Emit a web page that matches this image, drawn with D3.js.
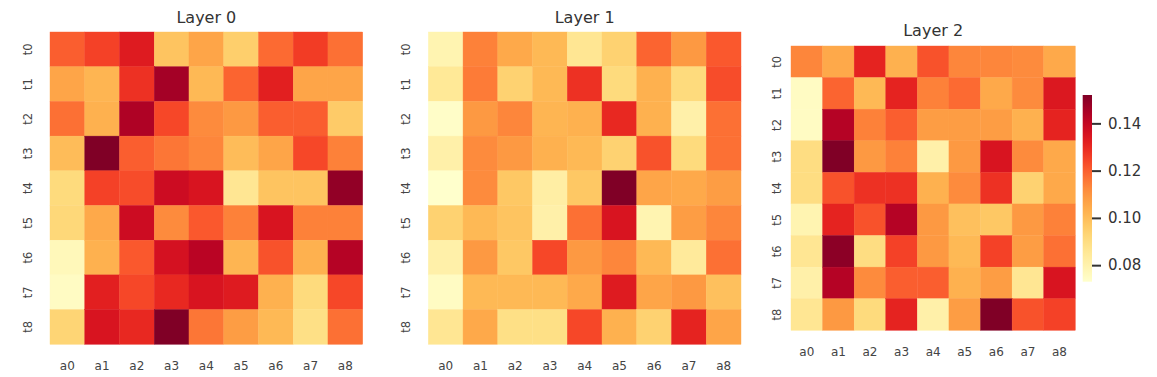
<!DOCTYPE html>
<html>
<head>
<meta charset="utf-8">
<script src="https://cdn.jsdelivr.net/npm/d3@7"></script>
<style>
  body { margin: 0; background: #fff; }
  svg text { font-family: "DejaVu Sans", sans-serif; }
</style>
</head>
<body>
<div id="chart"></div>
<script>
// Data

var cols = ['a0', 'a1', 'a2', 'a3', 'a4', 'a5', 'a6', 'a7', 'a8'];
var rows = ['t0', 't1', 't2', 't3', 't4', 't5', 't6', 't7', 't8'];
var layerNames = ['Layer 0', 'Layer 1', 'Layer 2'];
var colorTicks = [0.08, 0.10, 0.12, 0.14];
var vmin = 0.073, vmax = 0.152;

var layer0 = [
  [0.120, 0.125, 0.133, 0.098, 0.106, 0.095, 0.118, 0.126, 0.117],
  [0.106, 0.102, 0.128, 0.146, 0.101, 0.119, 0.132, 0.106, 0.106],
  [0.117, 0.103, 0.144, 0.124, 0.112, 0.109, 0.120, 0.120, 0.096],
  [0.100, 0.152, 0.120, 0.116, 0.113, 0.100, 0.106, 0.124, 0.114],
  [0.091, 0.125, 0.123, 0.138, 0.135, 0.086, 0.098, 0.098, 0.149],
  [0.092, 0.105, 0.138, 0.112, 0.121, 0.114, 0.135, 0.114, 0.114],
  [0.077, 0.103, 0.121, 0.136, 0.142, 0.102, 0.122, 0.103, 0.143],
  [0.075, 0.132, 0.124, 0.130, 0.135, 0.133, 0.103, 0.091, 0.124],
  [0.093, 0.135, 0.130, 0.152, 0.116, 0.108, 0.101, 0.089, 0.117]
];

var layer1 = [
  [0.079, 0.114, 0.105, 0.101, 0.086, 0.094, 0.119, 0.109, 0.121],
  [0.085, 0.115, 0.094, 0.101, 0.128, 0.091, 0.103, 0.091, 0.123],
  [0.074, 0.109, 0.113, 0.102, 0.103, 0.130, 0.103, 0.081, 0.117],
  [0.081, 0.112, 0.109, 0.103, 0.101, 0.094, 0.122, 0.091, 0.117],
  [0.073, 0.112, 0.097, 0.082, 0.097, 0.152, 0.106, 0.105, 0.108],
  [0.094, 0.101, 0.098, 0.081, 0.117, 0.135, 0.079, 0.108, 0.113],
  [0.081, 0.109, 0.097, 0.124, 0.109, 0.113, 0.101, 0.084, 0.117],
  [0.075, 0.101, 0.101, 0.101, 0.105, 0.133, 0.106, 0.109, 0.099],
  [0.086, 0.105, 0.089, 0.089, 0.124, 0.103, 0.094, 0.131, 0.106]
];

var layer2 = [
  [0.113, 0.105, 0.131, 0.103, 0.122, 0.113, 0.113, 0.112, 0.105],
  [0.075, 0.119, 0.101, 0.131, 0.114, 0.118, 0.105, 0.112, 0.134],
  [0.075, 0.143, 0.114, 0.120, 0.108, 0.108, 0.108, 0.103, 0.131],
  [0.090, 0.152, 0.109, 0.114, 0.081, 0.109, 0.135, 0.112, 0.105],
  [0.090, 0.122, 0.128, 0.128, 0.103, 0.112, 0.128, 0.094, 0.105],
  [0.079, 0.131, 0.122, 0.143, 0.109, 0.099, 0.097, 0.109, 0.114],
  [0.086, 0.150, 0.090, 0.125, 0.109, 0.101, 0.125, 0.108, 0.117],
  [0.081, 0.143, 0.112, 0.120, 0.120, 0.103, 0.108, 0.086, 0.135],
  [0.086, 0.109, 0.091, 0.131, 0.081, 0.108, 0.152, 0.122, 0.125]
];

var layers = [layer0, layer1, layer2];

// Layout

var width = 1157, height = 377;

var panels = [
  { x0: 50,    x1: 362.7,  y0: 32, y1: 344.3, titleY: 22.7, xlabY: 366, ylabX: 27.5 },
  { x0: 428.3, x1: 741,    y0: 32, y1: 344.3, titleY: 22.7, xlabY: 366, ylabX: 406 },
  { x0: 791,   x1: 1075.3, y0: 46, y1: 330.3, titleY: 36,   xlabY: 352, ylabX: 777 }
];

var color = d3.scaleSequential(d3.interpolateYlOrRd).domain([vmin, vmax]);

var svg = d3.select("#chart")
  .append("svg")
  .attr("width", width)
  .attr("height", height);

panels.forEach(function (p, i) {

  var x = d3.scaleBand().domain(cols).range([p.x0, p.x1]);
  var y = d3.scaleBand().domain(rows).range([p.y0, p.y1]);

  var cells = [];
  layers[i].forEach(function (r, ri) {
    r.forEach(function (v, ci) {
      cells.push({ row: rows[ri], col: cols[ci], value: v });
    });
  });

  var g = svg.append("g");

  g.selectAll("rect")
    .data(cells)
    .enter()
    .append("rect")
    .attr("x", function (d) { return x(d.col); })
    .attr("y", function (d) { return y(d.row); })
    .attr("width", x.bandwidth())
    .attr("height", y.bandwidth())
    .attr("fill", function (d) { return color(d.value); })
    .attr("stroke", function (d) { return color(d.value); })
    .attr("stroke-width", 0.4);

  // title
  g.append("text")
    .attr("x", (p.x0 + p.x1) / 2)
    .attr("y", p.titleY)
    .attr("text-anchor", "middle")
    .attr("font-size", "16px")
    .attr("fill", "#333")
    .text(layerNames[i]);

  // x tick labels
  g.selectAll(".xl")
    .data(cols)
    .enter()
    .append("text")
    .attr("x", function (d) { return x(d) + x.bandwidth() / 2; })
    .attr("y", p.xlabY)
    .attr("dy", "0.35em")
    .attr("text-anchor", "middle")
    .attr("font-size", "12px")
    .attr("fill", "#444")
    .text(function (d) { return d; });

  // y tick labels, rotated
  g.selectAll(".yl")
    .data(rows)
    .enter()
    .append("text")
    .attr("transform", function (d) {
      return "translate(" + p.ylabX + "," + (y(d) + y.bandwidth() / 2) + ") rotate(-90)";
    })
    .attr("dy", "0.35em")
    .attr("text-anchor", "middle")
    .attr("font-size", "11.5px")
    .attr("fill", "#444")
    .text(function (d) { return d; });
});

// Colorbar

var cbX = 1082.7, cbW = 9.3, cbTop = 95, cbBottom = 281.7;
var cbScale = d3.scaleLinear().domain([vmin, vmax]).range([cbBottom, cbTop]);

var grad = svg.append("defs")
  .append("linearGradient")
  .attr("id", "cbgrad")
  .attr("x1", "0").attr("y1", "1")
  .attr("x2", "0").attr("y2", "0");

d3.range(0, 1.0001, 0.05).forEach(function (t) {
  grad.append("stop")
    .attr("offset", t)
    .attr("stop-color", d3.interpolateYlOrRd(t));
});

svg.append("rect")
  .attr("x", cbX)
  .attr("y", cbTop)
  .attr("width", cbW)
  .attr("height", cbBottom - cbTop)
  .attr("fill", "url(#cbgrad)");

var cbAxis = svg.append("g")
  .attr("transform", "translate(" + (cbX + cbW) + ",0)")
  .call(d3.axisRight(cbScale)
    .tickValues(colorTicks)
    .tickSize(9)
    .tickPadding(7)
    .tickFormat(d3.format(".2f")));

cbAxis.select(".domain").remove();
cbAxis.selectAll("line").attr("stroke", "#333").attr("stroke-width", 2);
cbAxis.selectAll("text")
  .attr("font-size", "15px")
  .attr("font-family", "DejaVu Sans, sans-serif")
  .attr("fill", "#333");
</script>
</body>
</html>
